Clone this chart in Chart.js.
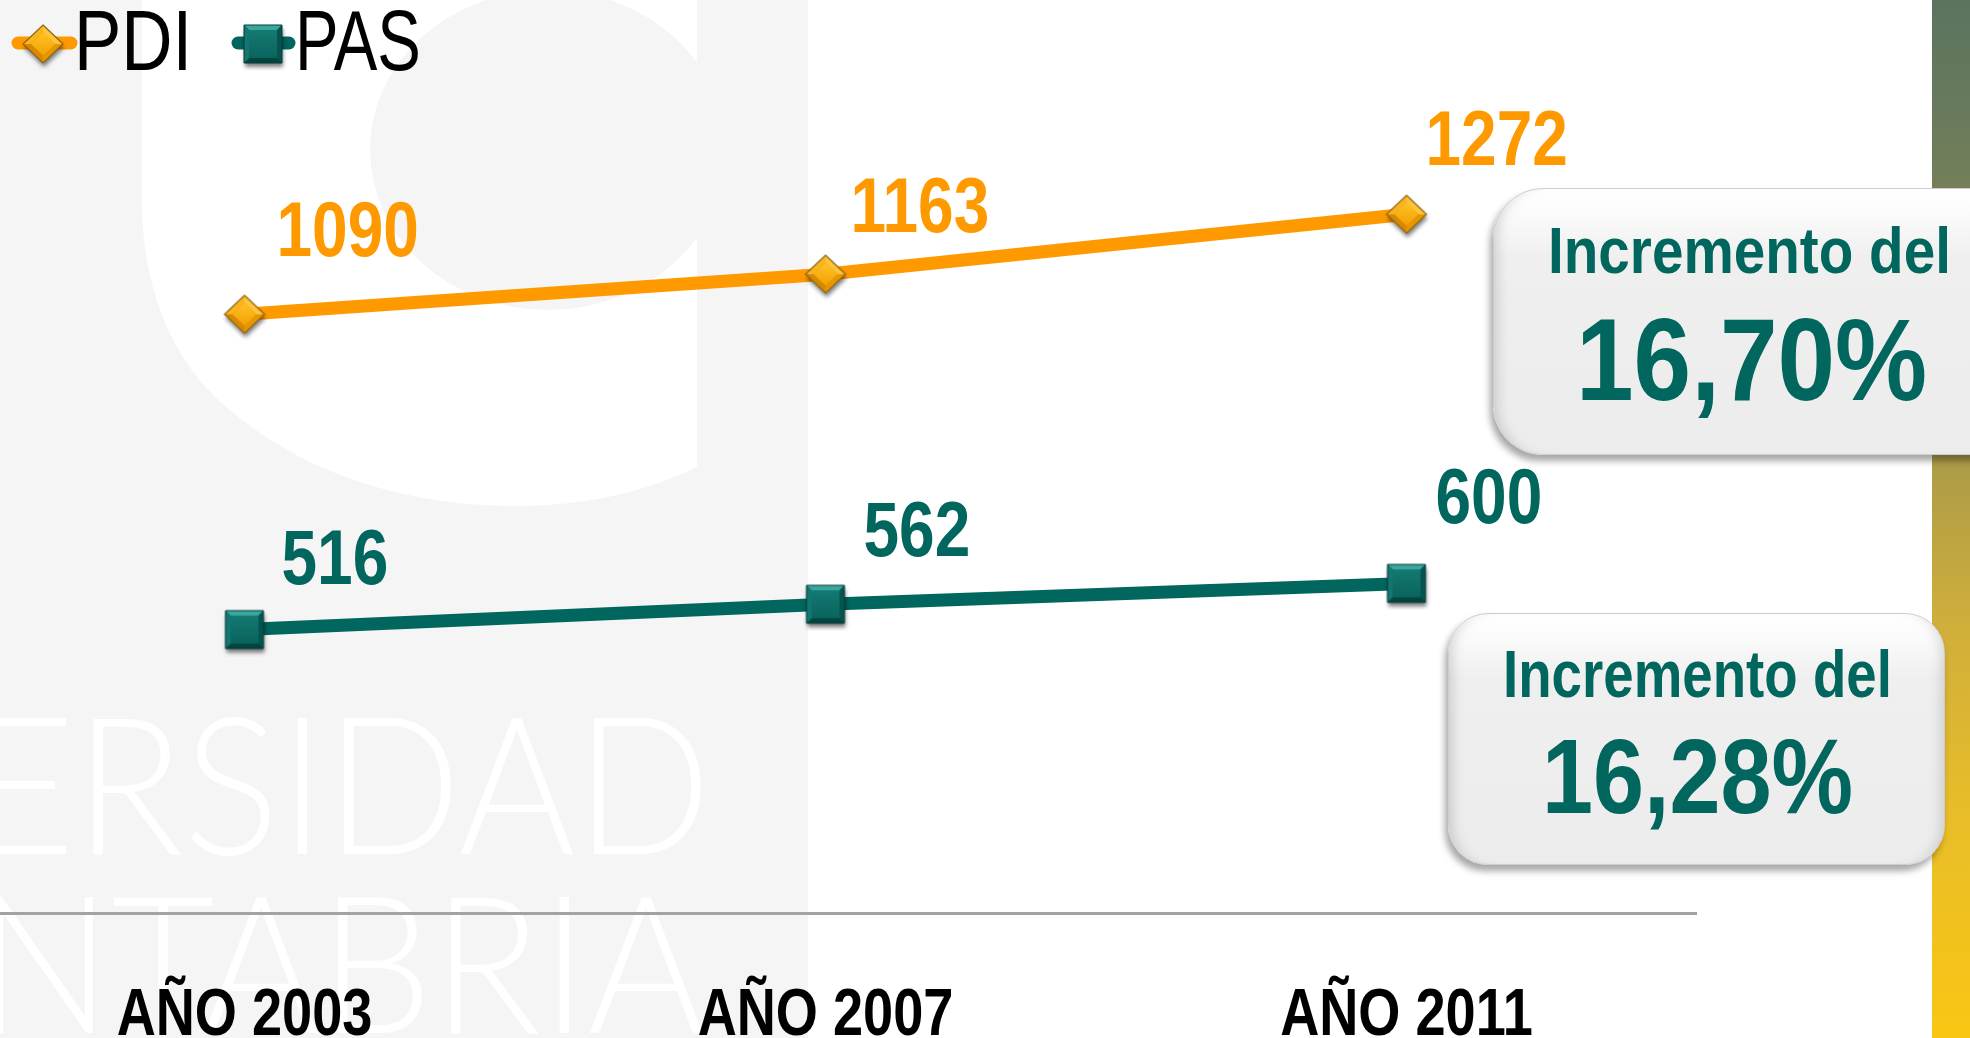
<!DOCTYPE html>
<html><head><meta charset="utf-8">
<script src="https://cdn.jsdelivr.net/npm/chart.js@4.4.1/dist/chart.umd.min.js"></script>
<style>
html,body{margin:0;padding:0;width:1970px;height:1038px;overflow:hidden;background:#fff;}
#bg{position:absolute;left:0;top:0;z-index:0;}
#chartWrap{position:absolute;left:-46px;top:0;width:1743px;height:1038px;z-index:1;}
#strip{position:absolute;left:1932px;top:0;width:38px;height:1038px;z-index:2;
  background:linear-gradient(180deg,#5b735f 0%,#6d7c5b 14%,#888853 28%,#ab9b48 44%,#cfae3b 60%,#e8bd29 78%,#f9c614 100%);}
.box{position:absolute;box-sizing:border-box;z-index:3;border:1px solid #cdcdcd;}
#box1{left:1493px;top:188px;width:540px;height:267px;border-radius:50px;
  background:linear-gradient(180deg,#ffffff 0%,#fbfbfb 9%,#efefef 26%,#ececec 100%);
  box-shadow:-3px 6px 7px rgba(0,0,0,0.35), inset 12px 0 14px -10px rgba(0,0,0,0.18);}
#box2{left:1448px;top:613px;width:497px;height:252px;border-radius:40px;
  background:linear-gradient(180deg,#ffffff 0%,#fbfbfb 9%,#efefef 26%,#ececec 100%);
  box-shadow:-3px 6px 7px rgba(0,0,0,0.35), inset 12px 0 14px -10px rgba(0,0,0,0.18), inset -12px 0 14px -10px rgba(0,0,0,0.16);}
.txt{position:absolute;white-space:nowrap;margin:0;padding:0;transform-origin:0 0;z-index:4;}
#legendIcons{position:absolute;left:0;top:0;z-index:4;}
</style></head><body>
<canvas id="bg" width="1970" height="1038"></canvas>
<div id="chartWrap"><canvas id="chart" width="1743" height="1038"></canvas></div>
<div id="strip"></div>
<div class="box" id="box1"></div>
<div class="box" id="box2"></div>
<canvas id="legendIcons" width="320" height="90"></canvas>
<script>
// ---------- DATA ----------
const categories = ['AÑO 2003', 'AÑO 2007', 'AÑO 2011'];
const seriesNames = ['PDI', 'PAS'];
const pdiValues = [1090, 1163, 1272];
const pasValues = [516, 562, 600];
const incrementCaption = 'Incremento del';
const increments = ['16,70%', '16,28%'];
const yMin = 0, yMax = 1400;

// ---------- STYLE ----------
const ORANGE = '#ff9900', TEAL = '#00665e';
const labelDX = [[32, 25, 19], [37, 38, 29]];
const labelDY = [[-58, -42, -49], [-46, -48, -60]];

const mctx = document.createElement('canvas').getContext('2d');
function fontAvailable(name) {
  const t = 'AÑO 2003 mmmWWiil';
  mctx.font = '66px monospace'; const a = mctx.measureText(t).width;
  mctx.font = '66px "' + name + '", monospace'; const b = mctx.measureText(t).width;
  return Math.abs(a - b) > 0.5;
}
const hasNarrow = fontAvailable('Liberation Sans Narrow');

// ---------- background ----------
(function drawBg() {
  const g = document.getElementById('bg').getContext('2d');
  g.fillStyle = '#f5f5f5'; g.fillRect(0, 0, 808, 1038);
  g.fillStyle = '#ffffff';
  g.beginPath();
  g.moveTo(142, 0); g.lineTo(142, 200);
  g.bezierCurveTo(142, 300, 180, 370, 230, 410);
  g.bezierCurveTo(300, 470, 400, 506, 516, 506);
  g.bezierCurveTo(590, 506, 650, 490, 697, 467);
  g.lineTo(697, 0); g.closePath(); g.fill();
  g.save(); g.beginPath(); g.rect(0, 0, 697, 1038); g.clip();
  g.fillStyle = '#f5f5f5'; g.beginPath(); g.ellipse(548, 150, 178, 160, 0, 0, Math.PI * 2); g.fill();
  g.restore();
  function word(full, part, rightX, baseY, partW) {
    g.save();
    g.font = '300 192px Lato, "Liberation Sans", sans-serif';
    g.textAlign = 'right'; g.textBaseline = 'alphabetic';
    const mp = g.measureText(part);
    const k = partW / (mp.actualBoundingBoxLeft + mp.actualBoundingBoxRight);
    const mf = g.measureText(full);
    g.translate(rightX, baseY); g.scale(k, 1);
    g.fillStyle = '#ffffff';
    g.fillText(full, -mf.actualBoundingBoxRight, 0);
    g.restore();
  }
  word('UNIVERSIDAD', 'ERSIDAD', 701, 854, 711);
  word('CANTABRIA', 'NTABRIA', 703, 1033, 708);
})();

// ---------- markers ----------
function makeDiamond() {
  const w = 40, h = 38, p = 8;
  const c = document.createElement('canvas'); c.width = w + 2 * p; c.height = h + 2 * p;
  const g = c.getContext('2d'); const cx = c.width / 2, cy = c.height / 2;
  const O = [[cx, cy - h / 2], [cx + w / 2, cy], [cx, cy + h / 2], [cx - w / 2, cy]];
  const s = 0.6;
  const I = O.map(([x, y]) => [cx + (x - cx) * s, cy + (y - cy) * s]);
  const poly = pts => { g.beginPath(); g.moveTo(pts[0][0], pts[0][1]); for (let i = 1; i < pts.length; i++) g.lineTo(pts[i][0], pts[i][1]); g.closePath(); };
  g.save(); g.shadowColor = 'rgba(0,0,0,0.5)'; g.shadowBlur = 4; g.shadowOffsetX = 1; g.shadowOffsetY = 4;
  poly(O); g.fillStyle = '#d08c00'; g.fill(); g.restore();
  const cols = ['#ffc53a', '#e89600', '#d68800', '#f9b41e'];
  for (let k = 0; k < 4; k++) { poly([O[k], O[(k + 1) % 4], I[(k + 1) % 4], I[k]]); g.fillStyle = cols[k]; g.fill(); }
  const gr = g.createLinearGradient(cx, cy - h / 2 * s, cx, cy + h / 2 * s);
  gr.addColorStop(0, '#ffc22a'); gr.addColorStop(1, '#f4a200');
  poly(I); g.fillStyle = gr; g.fill();
  poly(O); g.strokeStyle = '#8f6412'; g.lineWidth = 1.2; g.stroke();
  return c;
}
function makeSquare() {
  const w = 38, h = 38, p = 8;
  const c = document.createElement('canvas'); c.width = w + 2 * p; c.height = h + 2 * p;
  const g = c.getContext('2d');
  const l = p, t = p, r = p + w, b = p + h, d = 5;
  const O = [[l, t], [r, t], [r, b], [l, b]];
  const I = [[l + d, t + d], [r - d, t + d], [r - d, b - d], [l + d, b - d]];
  const poly = pts => { g.beginPath(); g.moveTo(pts[0][0], pts[0][1]); for (let i = 1; i < pts.length; i++) g.lineTo(pts[i][0], pts[i][1]); g.closePath(); };
  g.save(); g.shadowColor = 'rgba(0,0,0,0.5)'; g.shadowBlur = 4; g.shadowOffsetX = 1; g.shadowOffsetY = 4;
  poly(O); g.fillStyle = '#05524d'; g.fill(); g.restore();
  const cols = ['#3aa69e', '#06544f', '#03443f', '#137670'];
  for (let k = 0; k < 4; k++) { poly([O[k], O[(k + 1) % 4], I[(k + 1) % 4], I[k]]); g.fillStyle = cols[k]; g.fill(); }
  const gr = g.createLinearGradient(0, t + d, 0, b - d);
  gr.addColorStop(0, '#137a72'); gr.addColorStop(1, '#0a645e');
  poly(I); g.fillStyle = gr; g.fill();
  poly(O); g.strokeStyle = '#033c38'; g.lineWidth = 1; g.stroke();
  return c;
}
const diamondImg = makeDiamond();
const squareImg = makeSquare();

// ---------- plugins ----------
const valueLabels = {
  id: 'valueLabels',
  afterDatasetsDraw(chart) {
    const ctx = chart.ctx;
    chart.data.datasets.forEach((ds, i) => {
      chart.getDatasetMeta(i).data.forEach((pt, j) => {
        ctx.save();
        ctx.font = 'bold 78px "Liberation Sans", Arial, sans-serif';
        ctx.fillStyle = ds.borderColor;
        ctx.textAlign = 'left'; ctx.textBaseline = 'alphabetic';
        ctx.translate(pt.x + labelDX[i][j], pt.y + labelDY[i][j]);
        ctx.scale(0.82, 1);
        ctx.fillText(String(ds.data[j]), 0, 0);
        ctx.restore();
      });
    });
  }
};
const TICK_PAD = 64, TICK_SIZE = 66, TICK_LH = 1.2;
const tickFallback = {
  id: 'tickFallback',
  afterDraw(chart) {
    if (hasNarrow) return;
    const sc = chart.scales.x, ctx = chart.ctx;
    sc.ticks.forEach((t, i) => {
      ctx.save();
      ctx.font = 'bold ' + TICK_SIZE + 'px "Liberation Sans", Arial, sans-serif';
      ctx.fillStyle = '#000'; ctx.textAlign = 'center'; ctx.textBaseline = 'middle';
      ctx.translate(sc.getPixelForTick(i), sc.top + TICK_PAD + TICK_SIZE * TICK_LH / 2);
      ctx.scale(0.82, 1);
      ctx.fillText(categories[i], 0, 0);
      ctx.restore();
    });
  }
};

// ---------- chart ----------
new Chart(document.getElementById('chart'), {
  type: 'line',
  data: {
    labels: categories,
    datasets: [
      { label: seriesNames[0], data: pdiValues, borderColor: ORANGE, backgroundColor: ORANGE, borderWidth: 13,
        pointStyle: diamondImg, pointRadius: 20, tension: 0, fill: false },
      { label: seriesNames[1], data: pasValues, borderColor: TEAL, backgroundColor: TEAL, borderWidth: 13,
        pointStyle: squareImg, pointRadius: 20, tension: 0, fill: false }
    ]
  },
  options: {
    responsive: false, animation: false, devicePixelRatio: 1, events: [],
    layout: { autoPadding: false, padding: { top: 144, left: 0, right: 0, bottom: 0 } },
    plugins: { legend: { display: false }, tooltip: { enabled: false } },
    scales: {
      x: {
        type: 'category', offset: true,
        grid: { display: false, drawTicks: false },
        border: { display: true, color: '#a3a3a3', width: 3 },
        ticks: {
          color: hasNarrow ? '#000' : 'rgba(0,0,0,0)',
          font: { family: hasNarrow ? '"Liberation Sans Narrow"' : '"Liberation Sans"', size: TICK_SIZE, weight: 'bold', lineHeight: TICK_LH },
          padding: TICK_PAD, maxRotation: 0, minRotation: 0, autoSkip: false
        },
        afterFit: s => { s.height = 125; }
      },
      y: { display: false, min: yMin, max: yMax }
    }
  },
  plugins: [valueLabels, tickFallback]
});

// ---------- html texts ----------
function placeText(text, opts) {
  const fam = '"Liberation Sans", Arial, sans-serif';
  mctx.font = opts.weight + ' ' + opts.size + 'px ' + fam;
  const m = mctx.measureText(text);
  const inkW = m.actualBoundingBoxLeft + m.actualBoundingBoxRight;
  const k = opts.width / inkW;
  const fa = m.fontBoundingBoxAscent, fd = m.fontBoundingBoxDescent;
  const el = document.createElement('div');
  el.className = 'txt'; el.textContent = text;
  el.style.font = opts.weight + ' ' + opts.size + 'px ' + fam;
  el.style.lineHeight = opts.size + 'px';
  el.style.color = opts.color;
  el.style.left = (opts.left + m.actualBoundingBoxLeft * k) + 'px';
  el.style.top = (opts.baseline - ((opts.size - fa - fd) / 2 + fa)) + 'px';
  el.style.transform = 'scaleX(' + k + ')';
  document.body.appendChild(el);
}
placeText(seriesNames[0], { size: 86, weight: 'normal', color: '#000', left: 80, width: 106, baseline: 70 });
placeText(seriesNames[1], { size: 86, weight: 'normal', color: '#000', left: 300, width: 118, baseline: 70 });
placeText(incrementCaption, { size: 64, weight: 'bold', color: TEAL, left: 1552, width: 396, baseline: 273 });
placeText(increments[0], { size: 116, weight: 'bold', color: TEAL, left: 1582, width: 343, baseline: 400 });
placeText(incrementCaption, { size: 66, weight: 'bold', color: TEAL, left: 1506, width: 382, baseline: 697 });
placeText(increments[1], { size: 106, weight: 'bold', color: TEAL, left: 1547, width: 304, baseline: 813 });

// ---------- legend icons ----------
(function legendIcons() {
  const g = document.getElementById('legendIcons').getContext('2d');
  g.lineCap = 'round'; g.lineWidth = 13;
  g.strokeStyle = ORANGE; g.beginPath(); g.moveTo(18, 43); g.lineTo(71, 43); g.stroke();
  g.drawImage(diamondImg, 43 - diamondImg.width / 2, 44 - diamondImg.height / 2);
  g.strokeStyle = TEAL; g.beginPath(); g.moveTo(238, 43); g.lineTo(289, 43); g.stroke();
  g.drawImage(squareImg, 263 - squareImg.width / 2, 44 - squareImg.height / 2);
})();
</script>
</body></html>
